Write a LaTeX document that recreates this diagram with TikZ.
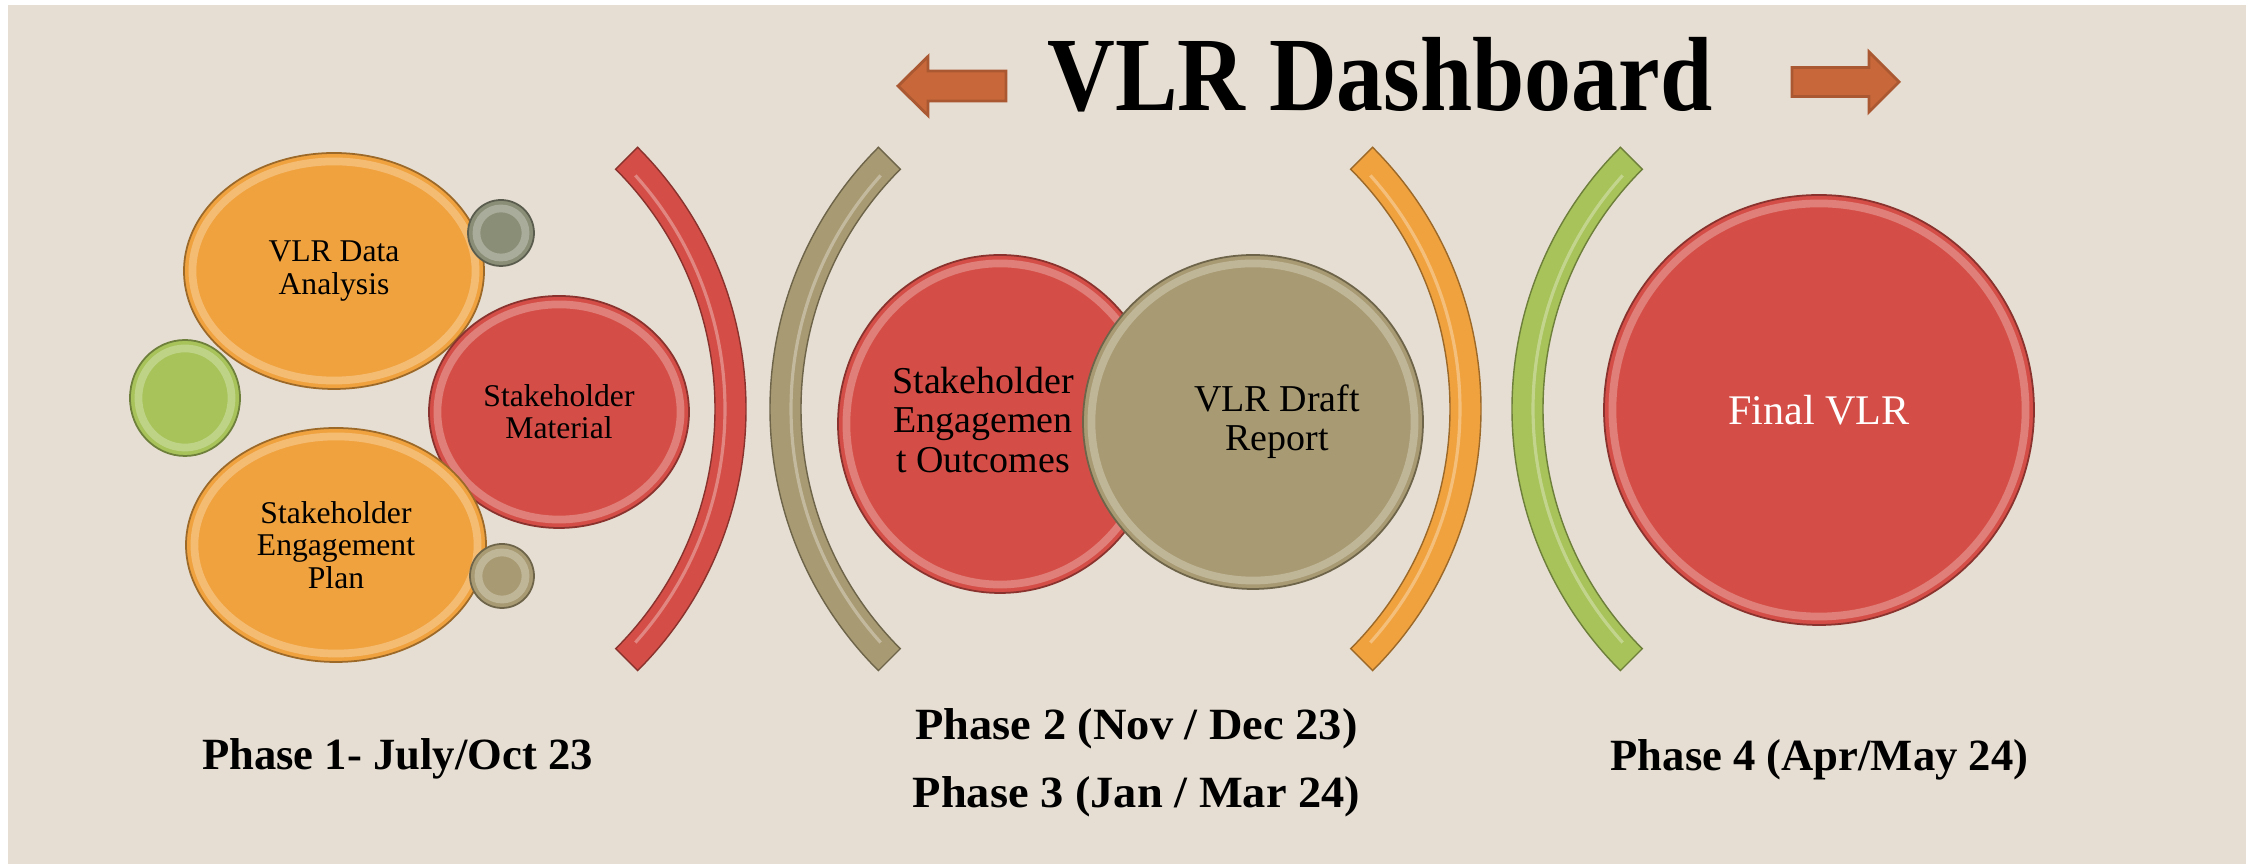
\documentclass[tikz,border=0pt]{standalone}
\usepackage{fontspec}
\setmainfont{Liberation Serif}
\usetikzlibrary{calc}
\usetikzlibrary{shapes.geometric}
\usetikzlibrary{positioning}

\definecolor{paper}{HTML}{E6DED2}
\definecolor{vorange}{HTML}{F0A23F}
\definecolor{vred}{HTML}{D44E47}
\definecolor{vtan}{HTML}{A89A72}
\definecolor{vgrey}{HTML}{8A8E76}
\definecolor{vgreen}{HTML}{A7C35A}
\definecolor{vbrown}{HTML}{C8683A}

\tikzset{
  ball/.style={ellipse, inner sep=0pt, fill=#1, draw=#1!65!black, line width=.5pt,
    path picture={\draw[#1!50!white, line width=2.2pt, opacity=.55] (path picture bounding box.center)
      ellipse [x radius=.5*\pgfkeysvalueof{/pgf/minimum width}-2.4pt,
               y radius=.5*\pgfkeysvalueof{/pgf/minimum height}-2.4pt];}},
  txt/.style={align=center, font=\fontsize{9}{9.2}\selectfont},
  phase/.style={anchor=base, font=\fontsize{12.7}{14}\selectfont\bfseries}
}

\begin{document}
\begin{tikzpicture}[x=1mm, y=1mm]
\useasboundingbox (0,0) rectangle (225.7,86.4);
\fill[white] (0,0) rectangle (225.7,86.4);
\fill[paper] (0.8,0) rectangle (224.6,85.9);

% title
\node[anchor=base, font=\fontsize{30}{32}\selectfont\bfseries] (title) at (138.0,75.3) {\scalebox{0.89}[1]{VLR Dashboard}};
\filldraw[fill=vbrown, draw=vbrown!85!black, line width=.8pt] (89.8,77.8) -- (92.8,80.75) -- (92.8,79.3) -- (100.6,79.3) -- (100.6,76.3) -- (92.8,76.3) -- (92.8,74.85) -- cycle;
\filldraw[fill=vbrown, draw=vbrown!85!black, line width=.8pt] (189.9,78.2) -- (186.9,81.2) -- (186.9,79.65) -- (179.2,79.65) -- (179.2,76.75) -- (186.9,76.75) -- (186.9,75.2) -- cycle;

% brackets
\foreach \cx/\a/\col in {37.6/0/vred, 114.0/180/vtan, 111.1/0/vorange, 188.2/180/vgreen} {
 \filldraw[fill=\col, draw=\col!65!black, line width=.4pt] (\cx,45.5) ++(\a-45:37) arc[start angle=\a-45, end angle=\a+45, radius=37mm] -- ++(\a+45:-3.1) arc[start angle=\a+45, end angle=\a-45, radius=33.9mm] -- cycle;
 \draw[\col!55!white, line width=.9pt, opacity=.7] (\cx,45.5) ++(\a-42:34.9) arc[start angle=\a-42, end angle=\a+42, radius=34.9mm];
}

% phase 1
\node[ball=vorange, minimum width=30mm, minimum height=23.6mm, txt] (vda) at (33.4,59.3) {VLR Data\\Analysis};
\node[ball=vred, minimum width=26mm, minimum height=23.2mm, txt] (smat) at (55.9,45.2) {Stakeholder\\Material};
\node[ball=vorange, minimum width=30mm, minimum height=23.4mm, txt] (sep) at (33.6,31.9) {Stakeholder\\Engagement\\Plan};
\node[ball=vgrey, minimum size=6.6mm] (dotA) at (50.1,63.1) {};
\node[ball=vtan, minimum size=6.4mm] (dotB) at (50.2,28.8) {};
\node[ball=vgreen, minimum width=11mm, minimum height=11.6mm] (dotC) at (18.5,46.6) {};

% phase 2 and 3
\node[ball=vred, minimum width=32.4mm, minimum height=33.8mm] (seo) at (100.0,44.0) {};
\node[ball=vtan, minimum width=34mm, minimum height=33.4mm] (vdr) at (125.3,44.2) {};
\node[txt, font=\fontsize{10.8}{11.3}\selectfont] (seotext) at ([xshift=-1.7mm, yshift=.4mm]seo.center) {Stakeholder\\Engagemen\\t Outcomes};
\node[txt, font=\fontsize{10.8}{11.1}\selectfont] (vdrtext) at ([xshift=2.4mm]vdr.center) {VLR Draft\\Report};

% phase 4
\node[ball=vred, minimum size=43mm, text=white, font=\fontsize{12}{14}\selectfont] (fvlr) at (181.9,45.4) {Final VLR};

\node[phase] (p1) at (39.75,9.4) {Phase 1- July/Oct 23};
\node[phase] (p2) at (113.65,12.4) {\scalebox{1.04}[1]{Phase 2 (Nov / Dec 23)}};
\node[phase] (p3) at (113.65,5.6) {\scalebox{1.04}[1]{Phase 3 (Jan / Mar 24)}};
\node[phase] (p4) at (181.95,9.3) {Phase 4 (Apr/May 24)};

\end{tikzpicture}
\end{document}
